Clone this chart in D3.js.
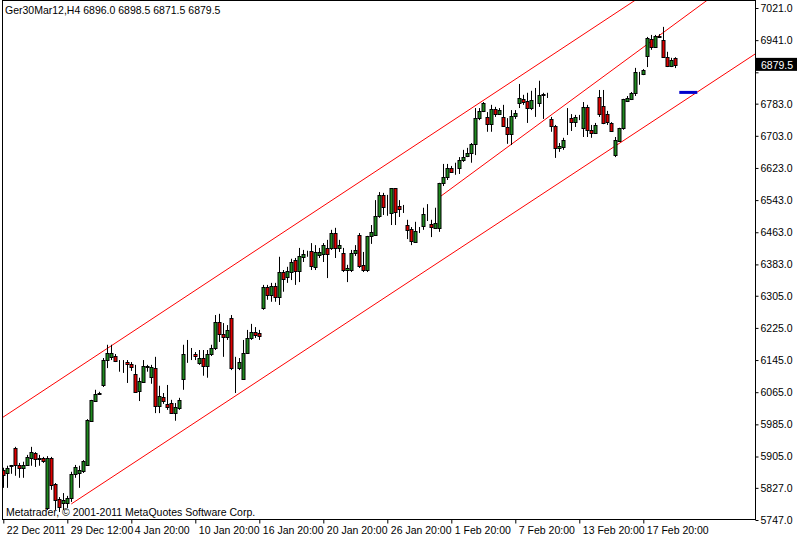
<!DOCTYPE html>
<html>
<head>
<meta charset="utf-8">
<script src="https://cdn.jsdelivr.net/npm/d3@7"></script>
<style>
  body { margin: 0; background: #fff; }
  text { font-family: "Liberation Sans", Arial, sans-serif; font-size: 10.5px; fill: #000; }
</style>
</head>
<body>
<svg id="chart" width="797" height="540"></svg>
<script>
// H4 bars: [open, high, low, close]
const bars = [
  [5872,5877,5827,5859],[5864,5882,5827,5877],[5882,5884,5862,5883],[5926,5929,5857,5884],
  [5884,5889,5852,5877],[5877,5892,5852,5884],[5884,5909,5882,5904],[5901,5929,5882,5916],
  [5914,5916,5879,5899],[5901,5909,5882,5899],[5901,5904,5889,5894],[5777,5906,5772,5901],
  [5901,5904,5822,5834],[5837,5839,5772,5797],[5799,5804,5767,5780],[5789,5814,5772,5797],
  [5789,5807,5777,5802],[5802,5867,5792,5862],[5862,5884,5852,5879],[5864,5882,5827,5872],
  [5869,5896,5864,5894],[5884,5998,5882,5996],[5994,6046,5991,6046],[6043,6071,6041,6061],
  [6061,6066,6058,6063],[6083,6150,6078,6145],[6145,6183,6125,6163],[6153,6183,6145,6163],
  [6155,6160,6140,6143],[6138,6145,6116,6137],[6140,6145,6113,6141],[6140,6145,6088,6135],
  [6135,6140,6118,6128],[6110,6133,6063,6066],[6068,6101,6043,6093],[6091,6145,6088,6130],
  [6128,6133,6116,6129],[6103,6133,6086,6128],[6125,6153,6013,6031],[6031,6081,6013,6056],
  [6053,6063,6036,6043],[6036,6083,6021,6028],[6038,6046,6011,6013],[6013,6038,5994,6028],
  [6026,6051,6021,6046],[6098,6183,6071,6160],[6160,6195,6138,6161],[6161,6175,6145,6160],
  [6160,6165,6145,6155],[6138,6170,6133,6150],[6150,6170,6106,6130],[6130,6170,6101,6160],
  [6160,6183,6155,6175],[6175,6257,6170,6240],[6240,6260,6190,6210],[6210,6237,6153,6203],
  [6203,6232,6195,6220],[6250,6257,6120,6125],[6125,6153,6063,6124],[6125,6150,6120,6140],
  [6098,6195,6096,6163],[6163,6220,6160,6200],[6200,6235,6195,6215],[6215,6227,6200,6208],
  [6213,6220,6195,6205],[6275,6332,6270,6327],[6327,6332,6295,6307],[6307,6337,6290,6329],
  [6329,6337,6290,6302],[6302,6402,6282,6364],[6364,6369,6315,6347],[6352,6377,6337,6367],
  [6364,6397,6344,6389],[6394,6399,6332,6367],[6367,6424,6339,6404],[6402,6419,6389,6409],
  [6409,6417,6402,6410],[6417,6436,6369,6379],[6377,6431,6369,6414],[6407,6424,6399,6414],
  [6409,6436,6389,6431],[6424,6444,6349,6409],[6424,6469,6419,6461],[6461,6474,6399,6424],
  [6424,6444,6414,6431],[6411,6424,6364,6369],[6369,6382,6339,6374],[6369,6419,6364,6411],
  [6411,6431,6404,6419],[6456,6461,6374,6379],[6382,6414,6364,6369],[6369,6454,6364,6454],
  [6454,6481,6434,6464],[6456,6543,6454,6504],[6504,6563,6499,6556],[6556,6561,6506,6526],
  [6524,6556,6504,6523],[6511,6573,6481,6573],[6573,6573,6481,6514],[6529,6543,6501,6521],
  [6524,6531,6511,6523],[6481,6494,6446,6469],[6471,6476,6431,6441],[6439,6489,6439,6466],
  [6464,6476,6461,6463],[6479,6524,6469,6509],[6506,6533,6491,6507],[6484,6494,6451,6476],
  [6474,6524,6474,6486],[6474,6586,6464,6586],[6586,6633,6578,6601],[6601,6633,6593,6623],
  [6623,6628,6611,6613],[6623,6636,6606,6622],[6623,6650,6608,6643],[6643,6668,6638,6650],
  [6653,6673,6650,6660],[6660,6685,6636,6683],[6683,6772,6655,6747],[6747,6772,6742,6765],
  [6765,6787,6762,6785],[6750,6762,6713,6732],[6732,6780,6713,6770],[6770,6775,6750,6757],
  [6757,6772,6755,6767],[6750,6780,6725,6727],[6725,6747,6683,6708],[6708,6767,6680,6752],
  [6752,6767,6745,6760],[6785,6832,6772,6797],[6795,6805,6780,6787],[6790,6810,6735,6772],
  [6772,6815,6767,6792],[6785,6822,6750,6784],[6785,6840,6775,6805],[6805,6810,6745,6806],
  [6805,6810,6797,6805],[6745,6750,6713,6727],[6727,6730,6648,6673],[6673,6685,6663,6678],
  [6675,6698,6668,6693],[6745,6772,6705,6746],[6747,6757,6715,6737],[6737,6755,6725,6750],
  [6747,6755,6742,6748],[6723,6787,6700,6775],[6775,6780,6700,6718],[6718,6730,6698,6710],
  [6710,6735,6710,6730],[6800,6817,6750,6757],[6777,6817,6732,6735],[6757,6765,6730,6737],
  [6735,6737,6713,6715],[6655,6700,6650,6693],[6690,6723,6688,6723],[6723,6795,6718,6795],
  [6790,6802,6787,6797],[6795,6812,6792,6810],[6810,6872,6802,6862],[6859,6862,6830,6860],
  [6857,6869,6854,6867],[6902,6949,6874,6947],[6944,6954,6917,6924],[6924,6954,6922,6951],
  [6951,6956,6947,6950],[6941,6974,6897,6899],[6899,6912,6874,6877],[6877,6897,6874,6892],
  [6896,6898.5,6871.5,6879.5]
];

const priceTicks = [7021, 6941, 6861, 6783, 6703, 6623, 6543, 6463, 6383, 6305,
  6225, 6145, 6065, 5985, 5905, 5827, 5747];
const dateTicks = [0, 16, 32, 48, 64, 80, 96, 112, 128, 144, 160];
const dateLabels = ["22 Dec 2011", "29 Dec 12:00", "4 Jan 20:00", "10 Jan 20:00", "16 Jan 20:00",
  "20 Jan 20:00", "26 Jan 20:00", "1 Feb 20:00", "7 Feb 20:00", "13 Feb 20:00", "17 Feb 20:00"];

// trend lines: two anchors [bar index, price]
const upperChannel = [[26, 6174], [150, 6988]];
const lowerChannel = [[17, 5787], [150, 6658]];
const middleLine = [[109, 6550], [165, 6960]];
const blueLevel = { from: 169, to: 173.5, price: 6811 };

const svg = d3.select("#chart");
const plot = { left: 3, right: 755, top: 0, bottom: 519 };

const x = d3.scaleLinear().domain([0, 1]).range([3.3, 7.3]);
const y = d3.scaleLinear().domain([5747, 7021]).range([520, 8]);

svg.append("clipPath").attr("id", "plotclip")
  .append("rect").attr("x", plot.left).attr("y", plot.top)
  .attr("width", plot.right - plot.left).attr("height", plot.bottom - plot.top);

const g = svg.append("g").attr("clip-path", "url(#plotclip)");

// channel rays
const ray = (pts, startAtLeft) => {
  const [[i1, p1], [i2, p2]] = pts;
  const slope = (p2 - p1) / (i2 - i1);
  const a = startAtLeft ? -10 : i1;
  const b = 200;
  g.append("line")
    .attr("x1", x(a)).attr("y1", y(p1 + slope * (a - i1)))
    .attr("x2", x(b)).attr("y2", y(p1 + slope * (b - i1)))
    .style("stroke", "#ff0000").style("stroke-width", 1);
};
ray(upperChannel, true);
ray(lowerChannel, false);
ray(middleLine, false);

// candles
const cx = (i) => Math.round(x(i)) + 0.5;
g.selectAll(".wick").data(bars).enter().append("line")
  .attr("x1", (d, i) => cx(i)).attr("x2", (d, i) => cx(i))
  .attr("y1", (d) => y(d[1])).attr("y2", (d) => y(d[2]))
  .style("stroke", "#000").style("stroke-width", 1);

g.selectAll(".body").data(bars).enter().append("rect")
  .attr("x", (d, i) => cx(i) - 1.5)
  .attr("y", (d) => Math.round(y(Math.max(d[0], d[3]))) + 0.5)
  .attr("width", 3)
  .attr("height", (d) => Math.max(0, Math.round(y(Math.min(d[0], d[3]))) - Math.round(y(Math.max(d[0], d[3])))))
  .style("fill", (d) => d[3] >= d[0] ? "#1f8a1f" : "#e00000")
  .style("stroke", "#000").style("stroke-width", 1);

// blue level
g.append("line")
  .attr("x1", x(blueLevel.from)).attr("x2", x(blueLevel.to))
  .attr("y1", y(blueLevel.price)).attr("y2", y(blueLevel.price))
  .style("stroke", "#0000cc").style("stroke-width", 3);

// frame
svg.append("rect").attr("x", 2.5).attr("y", 0.5).attr("width", 753).attr("height", 519)
  .style("fill", "none").style("stroke", "#000");

// price axis (the tick hidden under the current-price box is left out)
const last = bars[bars.length - 1][3];
const yAxis = d3.axisRight(y).tickValues(priceTicks).tickSize(3).tickFormat(d3.format(".1f"));
const ya = svg.append("g").attr("transform", `translate(${plot.right + 0.5},0)`).call(yAxis)
  .call((a) => a.select(".domain").remove())
  .call((a) => a.selectAll("text").attr("x", 5));
ya.selectAll(".tick").filter((d) => Math.abs(y(d) - y(last)) < 10).select("text").remove();

// current price box
svg.append("rect").attr("x", 756).attr("y", y(last) - 7).attr("width", 41).attr("height", 13)
  .style("fill", "#000");
svg.append("text").attr("x", 761).attr("y", y(last) + 4).text(last.toFixed(1))
  .style("fill", "#fff");

// time axis
const xAxis = d3.axisBottom(x).tickValues(dateTicks).tickSize(4).tickFormat((d, i) => dateLabels[i]);
svg.append("g").attr("transform", `translate(0,${plot.bottom + 0.5})`).call(xAxis)
  .call((a) => a.select(".domain").remove())
  .call((a) => a.selectAll("text").attr("text-anchor", "start").attr("x", 3).attr("y", 7));

svg.append("text").attr("x", 5).attr("y", 14)
  .text("Ger30Mar12,H4  6896.0 6898.5 6871.5 6879.5");
svg.append("text").attr("x", 6).attr("y", 516)
  .text("Metatrader, \u00a9 2001-2011 MetaQuotes Software Corp.");
</script>
</body>
</html>
